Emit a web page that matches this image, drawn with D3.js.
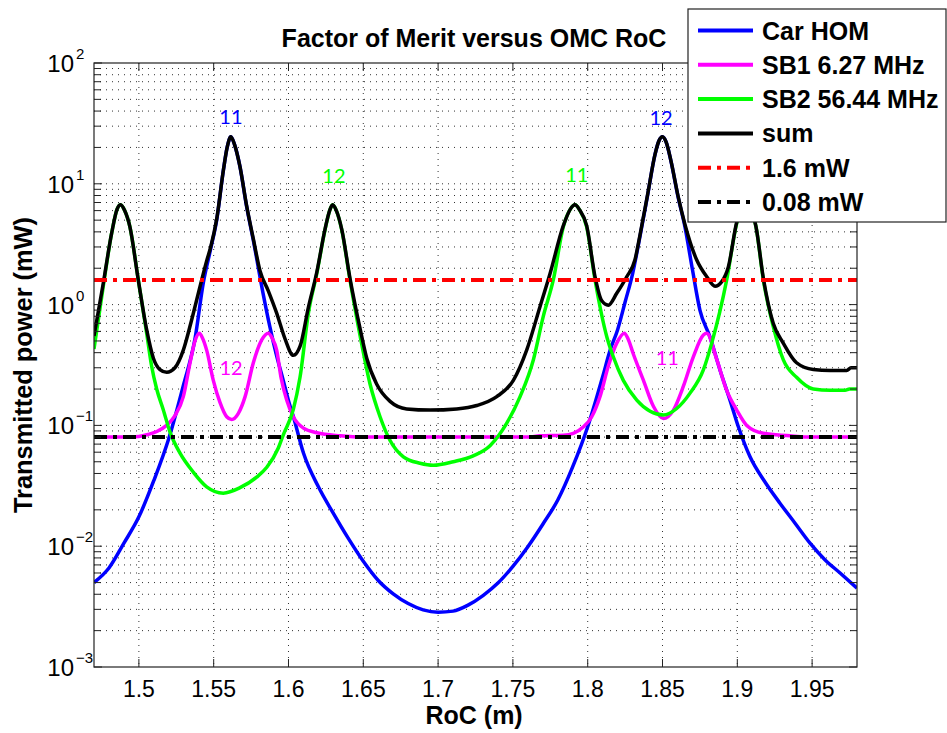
<!DOCTYPE html>
<head>
<meta charset="utf-8">
<script src="https://cdnjs.cloudflare.com/ajax/libs/d3/7.8.5/d3.min.js"></script>
<style>
  body { margin: 0; background: #fff; }
  svg text { font-family: "Liberation Sans", Arial, sans-serif; }
  .grid line { stroke: #000; stroke-width: 1; stroke-dasharray: 1,5; opacity: 0.8; }
  .ann { font-family: Lato, "Open Sans", sans-serif; font-size: 20px; text-anchor: middle; }
</style>
</head>
<body>
<div class="chart"></div>
<script>

// [RoC (m), transmitted power (mW)]
var carHOM = [
  [1.470,0.0050],[1.480,0.0066],[1.490,0.0106],[1.500,0.0175],[1.510,0.035],[1.520,0.078],
  [1.530,0.22],[1.5375,0.52],[1.543,1.5],[1.548,2.9],[1.552,5.0],[1.5565,13.0],[1.559,20],
  [1.5615,24.5],[1.564,21],[1.5675,14],[1.572,6.5],[1.5765,3.4],[1.583,1.24],[1.5875,0.66],
  [1.592,0.38],[1.5965,0.236],[1.600,0.16],[1.6033,0.118],[1.610,0.059],
  [1.620,0.031],[1.630,0.0187],[1.640,0.0116],[1.650,0.0075],[1.660,0.0052],[1.670,0.00403],
  [1.680,0.00335],[1.690,0.00297],[1.700,0.00284],[1.710,0.0029],[1.720,0.00325],[1.730,0.0039],
  [1.740,0.00495],[1.750,0.0068],[1.760,0.0099],[1.770,0.0152],[1.780,0.0241],[1.790,0.0455],
  [1.800,0.0975],[1.810,0.253],[1.815,0.42],[1.820,0.62],[1.825,1.05],[1.830,1.8],[1.835,3.7],
  [1.840,8.0],[1.845,17.5],[1.8475,22.5],[1.850,24.5],[1.8525,22],[1.8555,15.7],[1.8604,7.8],
  [1.865,4.4],[1.870,1.95],[1.875,0.9],[1.8817,0.54],[1.8884,0.288],[1.8951,0.162],
  [1.9007,0.0975],[1.9085,0.055],[1.9185,0.034],[1.9285,0.0227],[1.9386,0.0155],
  [1.9486,0.0106],[1.9587,0.0077],[1.9687,0.0060],[1.980,0.0045]
];

var sb1 = [
  [1.470,0.080],[1.490,0.080],[1.500,0.081],[1.506,0.084],[1.512,0.089],[1.5185,0.100],
  [1.524,0.120],[1.5297,0.173],[1.5342,0.33],[1.5375,0.50],[1.5404,0.58],[1.5425,0.53],
  [1.5453,0.42],[1.5497,0.237],[1.5542,0.155],[1.5587,0.118],[1.562,0.112],[1.5665,0.126],
  [1.571,0.173],[1.5765,0.33],[1.5821,0.51],[1.5865,0.58],[1.589,0.53],[1.5921,0.42],
  [1.595,0.25],[1.5988,0.162],[1.6032,0.118],[1.610,0.095],[1.619,0.087],[1.6345,0.082],
  [1.650,0.080],[1.760,0.080],[1.768,0.082],[1.7837,0.083],[1.7904,0.086],[1.797,0.097],
  [1.8027,0.118],[1.8082,0.173],[1.8138,0.31],[1.8194,0.48],[1.8245,0.58],[1.827,0.52],
  [1.8305,0.39],[1.8372,0.237],[1.8439,0.144],[1.8506,0.114],[1.8573,0.134],[1.8639,0.21],
  [1.8706,0.37],[1.8773,0.56],[1.8796,0.58],[1.8863,0.35],[1.8929,0.195],[1.8996,0.134],
  [1.9063,0.100],[1.9174,0.086],[1.9352,0.082],[1.945,0.080],[1.980,0.080]
];

var sb2 = [
  [1.470,0.43],[1.4762,1.42],[1.4818,3.9],[1.4855,6.2],[1.4878,6.7],[1.4905,6.0],[1.494,4.4],
  [1.4996,1.6],[1.5052,0.58],[1.5085,0.31],[1.5119,0.20],[1.5163,0.135],[1.5208,0.088],
  [1.5275,0.059],[1.5364,0.041],[1.5453,0.031],[1.5564,0.0275],[1.5676,0.0305],[1.5787,0.0373],
  [1.5855,0.045],[1.5932,0.065],[1.5966,0.084],[1.6032,0.135],[1.6077,0.25],[1.6133,0.85],
  [1.6189,1.8],[1.6244,4.15],[1.6275,6.0],[1.6295,6.7],[1.632,6.0],[1.6356,4.15],[1.6411,1.6],
  [1.648,0.54],[1.6545,0.22],[1.6612,0.118],[1.6679,0.075],[1.6768,0.055],[1.6879,0.0486],
  [1.6968,0.0467],[1.7102,0.050],[1.7235,0.056],[1.7347,0.068],[1.7458,0.104],[1.7548,0.173],
  [1.7637,0.35],[1.7703,0.80],[1.777,1.6],[1.7837,4.4],[1.7885,6.2],[1.7915,6.7],[1.7945,6.1],
  [1.7993,4.4],[1.8049,1.6],[1.8128,0.54],[1.8171,0.37],[1.8238,0.236],[1.8328,0.162],
  [1.8417,0.131],[1.8506,0.122],[1.8595,0.138],[1.8684,0.185],[1.8773,0.288],[1.8829,0.48],
  [1.8929,1.6],[1.8996,4.7],[1.903,6.3],[1.9059,6.7],[1.909,6.2],[1.9125,4.4],[1.9174,1.6],
  [1.924,0.66],[1.9307,0.35],[1.9396,0.25],[1.9508,0.20],[1.962,0.195],[1.972,0.195],
  [1.975,0.20],[1.980,0.20]
];

var sumPower = [
  [1.470,0.55],[1.4762,1.5],[1.4818,3.9],[1.4855,6.2],[1.4878,6.7],[1.4905,6.0],[1.494,4.4],
  [1.4996,1.6],[1.5052,0.62],[1.5097,0.36],[1.5141,0.29],[1.5186,0.275],[1.5241,0.30],
  [1.5297,0.42],[1.5353,0.75],[1.5408,1.4],[1.5453,2.3],[1.548,3.0],[1.552,5.1],[1.5565,13.0],
  [1.559,20],[1.5615,24.5],[1.564,21],[1.5675,14],[1.572,6.6],[1.5765,3.5],[1.581,1.9],
  [1.5865,1.3],[1.5921,0.85],[1.5977,0.52],[1.6032,0.38],[1.6077,0.45],[1.6133,0.95],
  [1.6189,1.85],[1.6244,4.2],[1.6275,6.0],[1.6295,6.7],[1.632,6.0],[1.6356,4.2],[1.6411,1.65],
  [1.648,0.62],[1.6523,0.36],[1.6589,0.22],[1.6679,0.158],[1.679,0.137],[1.6946,0.134],
  [1.7124,0.137],[1.7258,0.146],[1.7392,0.173],[1.7503,0.236],[1.7592,0.42],[1.7681,0.96],
  [1.7748,1.8],[1.7837,4.5],[1.7885,6.2],[1.7915,6.7],[1.7945,6.1],[1.7993,4.5],[1.8049,1.7],
  [1.8093,1.08],[1.8138,0.99],[1.8194,1.24],[1.8261,1.7],[1.8316,2.35],[1.835,3.8],[1.840,8.1],
  [1.845,17.5],[1.8475,22.5],[1.850,24.5],[1.8525,22],[1.8555,15.8],[1.8604,7.9],[1.865,4.6],
  [1.8728,2.35],[1.8796,1.7],[1.8851,1.42],[1.8896,1.55],[1.894,2.05],[1.8996,4.8],[1.903,6.3],
  [1.9059,6.7],[1.909,6.2],[1.9125,4.4],[1.9174,1.65],[1.924,0.70],[1.9307,0.48],[1.9396,0.33],
  [1.9508,0.29],[1.962,0.285],[1.9731,0.285],[1.976,0.30],[1.980,0.30]
];

var limitHigh = 1.6;   // mW
var limitLow = 0.08;   // mW

var rocTicks = [1.5,1.55,1.6,1.65,1.7,1.75,1.8,1.85,1.9,1.95];
var decades = [-3,-2,-1,0,1,2];

var seriesNames = ["Car HOM","SB1 6.27 MHz","SB2 56.44 MHz","sum","1.6 mW","0.08 mW"];
var seriesColors = ["#0000ff","#ff00ff","#00ff00","#000000","#ff0000","#000000"];

// mode labels next to the peaks
var peakLabels = [
  {text:"11", roc:1.5615, power:31,   color:"#0000ff"},
  {text:"12", roc:1.8490, power:30.5, color:"#0000ff"},
  {text:"12", roc:1.6304, power:10.2, color:"#00ff00"},
  {text:"11", roc:1.7927, power:10.4, color:"#00ff00"},
  {text:"12", roc:1.5616, power:0.26, color:"#ff00ff"},
  {text:"11", roc:1.8532, power:0.315,color:"#ff00ff"}
];

var width = 947, height = 733;
var margin = {top: 63, right: 90, bottom: 66, left: 94};
var w = width - margin.left - margin.right,
    h = height - margin.top - margin.bottom;

var x = d3.scaleLinear().domain([1.47, 1.98]).range([0, w]);
var y = d3.scaleLog().domain([1e-3, 1e2]).range([h, 0]);

var svg = d3.select(".chart").append("svg")
    .attr("width", width).attr("height", height);
var g = svg.append("g")
    .attr("transform", "translate(" + margin.left + "," + margin.top + ")");

g.append("defs").append("clipPath").attr("id", "plotclip")
  .append("rect").attr("width", w).attr("height", h);

// every 1..9 x 10^k for the log grid
var minorVals = [];
decades.forEach(function(k){
  for (var m = 1; m < 10; m++) {
    var v = m * Math.pow(10, k);
    if (v <= 100) minorVals.push(v);
  }
});

var grid = g.append("g").attr("class", "grid");
grid.selectAll(".gx").data(rocTicks).enter().append("line")
  .attr("x1", function(d){ return x(d); }).attr("x2", function(d){ return x(d); })
  .attr("y1", 0).attr("y2", h);
grid.selectAll(".gy").data(minorVals.filter(function(v){ return v > 1e-3 && v < 1e2; }))
  .enter().append("line")
  .attr("x1", 0).attr("x2", w)
  .attr("y1", function(d){ return y(d); }).attr("y2", function(d){ return y(d); });

// curves
var line = d3.line()
  .x(function(d){ return x(d[0]); })
  .y(function(d){ return y(d[1]); })
  .curve(d3.curveMonotoneX);

var plot = g.append("g").attr("clip-path", "url(#plotclip)");
[carHOM, sb1, sb2, sumPower].forEach(function(s, i){
  plot.append("path").datum(s)
    .attr("d", line)
    .attr("fill", "none")
    .attr("stroke", seriesColors[i])
    .attr("stroke-width", 3.5)
    .attr("stroke-linejoin", "round");
});

[limitHigh, limitLow].forEach(function(v, i){
  plot.append("line")
    .attr("x1", 0).attr("x2", w)
    .attr("y1", y(v)).attr("y2", y(v))
    .attr("stroke", seriesColors[4 + i])
    .attr("stroke-width", 4)
    .attr("stroke-dasharray", "13,6,4,6");
});

// peak labels
g.selectAll(".ann").data(peakLabels).enter().append("text")
  .attr("class", "ann")
  .attr("x", function(d){ return x(d.roc); })
  .attr("y", function(d){ return y(d.power); })
  .attr("fill", function(d){ return d.color; })
  .text(function(d){ return d.text; });

// axes box, ticks inward on all sides
var axisCol = "#222";
g.append("rect").attr("width", w).attr("height", h)
  .attr("fill", "none").attr("stroke", axisCol).attr("stroke-width", 1.2);

var tl = 8;
rocTicks.forEach(function(t){
  g.append("line").attr("x1", x(t)).attr("x2", x(t)).attr("y1", h).attr("y2", h - tl).attr("stroke", axisCol);
  g.append("line").attr("x1", x(t)).attr("x2", x(t)).attr("y1", 0).attr("y2", tl).attr("stroke", axisCol);
});
minorVals.forEach(function(v){
  var len = (Math.log10(v) % 1 === 0) ? tl : 7;
  g.append("line").attr("x1", 0).attr("x2", len).attr("y1", y(v)).attr("y2", y(v)).attr("stroke", axisCol);
  g.append("line").attr("x1", w).attr("x2", w - len).attr("y1", y(v)).attr("y2", y(v)).attr("stroke", axisCol);
});

// x tick labels
g.selectAll(".xl").data(rocTicks).enter().append("text")
  .attr("x", function(d){ return x(d); })
  .attr("y", h + 30)
  .attr("text-anchor", "middle")
  .attr("font-size", "23px")
  .text(function(d){ return d3.format("")(d); });

// y tick labels 10^k
decades.forEach(function(k){
  var yy = y(Math.pow(10, k));
  g.append("text").attr("x", -20).attr("y", yy + 9)
    .attr("text-anchor", "end").attr("font-size", "24px").text("10");
  g.append("text").attr("x", -18).attr("y", yy - 4)
    .attr("font-size", "15px").text(k < 0 ? "\u2212" + (-k) : String(k));
});

// axis labels and title
svg.append("text")
  .attr("x", margin.left + x(1.7) + 36).attr("y", 724)
  .attr("text-anchor", "middle").attr("font-weight", "bold").attr("font-size", "25px")
  .text("RoC (m)");
svg.append("text")
  .attr("transform", "translate(32," + (margin.top + h / 2) + ") rotate(-90)")
  .attr("text-anchor", "middle").attr("font-weight", "bold").attr("font-size", "25px")
  .attr("textLength", 296).attr("lengthAdjust", "spacingAndGlyphs")
  .text("Transmitted power (mW)");
svg.append("text")
  .attr("x", 474).attr("y", 47)
  .attr("text-anchor", "middle").attr("font-weight", "bold").attr("font-size", "25px")
  .text("Factor of Merit versus OMC RoC");

// legend
var leg = svg.append("g").attr("transform", "translate(688,9)");
leg.append("rect").attr("width", 258).attr("height", 213)
  .attr("fill", "#fff").attr("stroke", "#222").attr("stroke-width", 1.2);
seriesNames.forEach(function(name, i){
  var ry = 21.5 + i * 34.3;
  leg.append("line").attr("x1", 10).attr("x2", 65).attr("y1", ry).attr("y2", ry)
    .attr("stroke", seriesColors[i]).attr("stroke-width", 4)
    .attr("stroke-dasharray", i >= 4 ? "13,6,4,6" : null);
  leg.append("text").attr("x", 74).attr("y", ry + 9)
    .attr("font-weight", "bold").attr("font-size", "25px").text(name);
});

</script>
</body>
